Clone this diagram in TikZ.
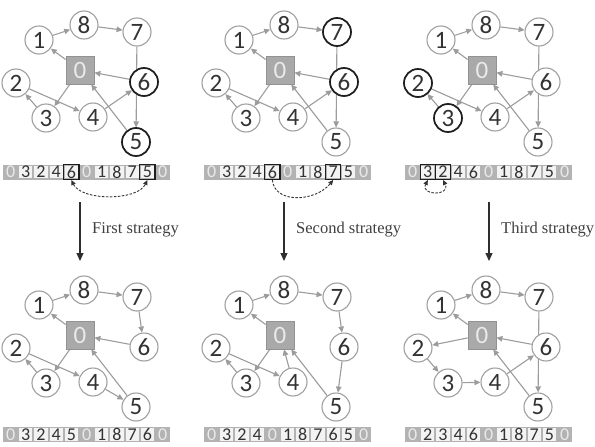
\documentclass[tikz,border=0pt]{standalone}
\usepackage{fontspec}
\setmainfont{Liberation Serif}
\newfontfamily\digitfont{Carlito}
\usetikzlibrary{arrows.meta,backgrounds}

\definecolor{ringgray}{HTML}{A0A0A0}
\definecolor{linkgray}{HTML}{9C9C9C}
\definecolor{inkdark}{HTML}{333333}
\definecolor{depotfill}{HTML}{A9A9A9}
\definecolor{depotedge}{HTML}{929292}
\definecolor{depottext}{HTML}{EAEAEA}
\definecolor{barfill}{HTML}{B3B3B3}
\definecolor{cellfill}{HTML}{F3F3F3}
\definecolor{hotblack}{HTML}{1E1E1E}
\definecolor{swapink}{HTML}{333333}
\definecolor{stepink}{HTML}{2E2E2E}
\definecolor{labelink}{HTML}{404040}

\newcommand\vtxfont{\digitfont\fontsize{25}{25}\selectfont}
\newcommand\cellfont{\digitfont\fontsize{18}{18}\selectfont}
\newcommand\labelfont{\fontsize{16.5}{18}\selectfont}

\tikzset{
  swaptip/.tip={Triangle[length=5pt,width=4.5pt]},
  vtx/.style={circle, draw=ringgray, line width=1.1pt, fill=white,
    minimum size=28pt, inner sep=0pt, font=\vtxfont, text=inkdark},
  depot/.style={rectangle, draw=depotedge, line width=0.8pt, fill=depotfill,
    minimum size=28pt, inner sep=0pt, font=\vtxfont, text=depottext},
  hotring/.style={draw=hotblack, line width=1.7pt},
  link/.style={draw=linkgray, line width=1.1pt,
    -{Triangle[length=6pt,width=5.5pt]}},
  bar/.style={rectangle, fill=barfill, minimum height=15pt, inner sep=0pt},
  tourcell/.style={rectangle, fill=cellfill, minimum width=13.2pt,
    minimum height=12.4pt, inner sep=0pt, font=\cellfont, text=inkdark},
  depotcell/.style={rectangle, minimum width=13.2pt, minimum height=12.4pt,
    inner sep=0pt, font=\cellfont, text=depottext},
  hotbox/.style={draw=hotblack, line width=1.1pt},
  swaparrow/.style={draw=swapink, line width=0.9pt,
    dash pattern=on 2.5pt off 1.5pt},
  steparrow/.style={draw=stepink, line width=1.2pt,
    -{Triangle[length=8pt,width=7pt]}},
  steplabel/.style={font=\labelfont, text=labelink, anchor=base west,
    inner sep=0pt},
}

% depot 0 and customers 1..8 around it
\newcommand\placegraph[3]{%
  \begin{scope}[shift={(#2,#3)}]
    \node[depot] (#1-0) at (0,0) {0};
    \node[vtx] (#1-1) at (-41,-30) {1};
    \node[vtx] (#1-8) at (4,-45) {8};
    \node[vtx] (#1-7) at (57,-38) {7};
    \node[vtx] (#1-6) at (64,12) {6};
    \node[vtx] (#1-2) at (-64,13) {2};
    \node[vtx] (#1-3) at (-34,48) {3};
    \node[vtx] (#1-4) at (13,47) {4};
    \node[vtx] (#1-5) at (56,72) {5};
  \end{scope}}

% directed legs of the routes, kept under the nodes
\newcommand\route[2]{%
  \begin{scope}[on background layer]
    \foreach \a/\b in {#2}{\draw[link] (#1-\a) -- (#1-\b);}
  \end{scope}}

\newcommand\highlight[2]{%
  \foreach \n in {#2}{\draw[hotring] (#1-\n.center) circle[radius=14pt];}}

% one solution string: grey strip, light cells, depots in grey
\newcommand\tourbar[4]{%
  \node[bar, minimum width=167.2pt] (#1) at ({#2+83.6},#3) {};
  \foreach \v [count=\i from 0] in {#4}{%
    \ifnum\v=0
      \node[depotcell] (#1-\i) at ({#2+7.6+15.2*\i},#3) {0};
    \else
      \node[tourcell] (#1-\i) at ({#2+7.6+15.2*\i},#3) {\v};
    \fi}}

\newcommand\markcell[1]{%
  \draw[hotbox] ([xshift=-7.6pt,yshift=-7.5pt]#1.center) rectangle
                ([xshift=7.6pt,yshift=7.5pt]#1.center);}

\begin{document}
\begin{tikzpicture}[x=1pt,y=-1pt]
  \useasboundingbox (0,0) rectangle (595,447);

  % ---------- before the moves ----------
  \placegraph{ga}{80}{70}
  \route{ga}{0/3,3/2,2/4,4/6,6/0,0/1,1/8,8/7,7/5,5/0}
  \highlight{ga}{6,5}

  \placegraph{gb}{280}{70}
  \route{gb}{0/3,3/2,2/4,4/6,6/0,0/1,1/8,8/7,7/5,5/0}
  \highlight{gb}{7,6}

  \placegraph{gc}{482}{70}
  \route{gc}{0/3,3/2,2/4,4/6,6/0,0/1,1/8,8/7,7/5,5/0}
  \highlight{gc}{2,3}

  \tourbar{ta}{3}{172}{0,3,2,4,6,0,1,8,7,5,0}
  \tourbar{tb}{204}{172}{0,3,2,4,6,0,1,8,7,5,0}
  \tourbar{tc}{405}{172}{0,3,2,4,6,0,1,8,7,5,0}
  \markcell{ta-4}\markcell{ta-9}
  \markcell{tb-4}\markcell{tb-8}
  \markcell{tc-1}\markcell{tc-2}

  % exchanged positions
  \draw[swaparrow, swaptip-swaptip]
    ([yshift=-1.6pt]ta-4.south) .. controls +(10,21) and +(-10,21) ..
    ([yshift=-1.6pt]ta-9.south);
  \draw[swaparrow, -swaptip]
    ([yshift=-1.6pt]tb-4.south) .. controls +(2,24) and +(-18,22) ..
    ([yshift=-1.6pt]tb-8.south);
  \draw[swaparrow, swaptip-swaptip]
    ([yshift=-1.6pt]tc-1.south) .. controls +(-8,16) and +(8,16) ..
    ([yshift=-1.6pt]tc-2.south);

  % ---------- the three strategies ----------
  \coordinate (sa0) at (80,202);  \coordinate (sa1) at (80,261);
  \coordinate (sb0) at (284,202); \coordinate (sb1) at (284,261);
  \coordinate (sc0) at (489,202); \coordinate (sc1) at (489,261);
  \draw[steparrow] (sa0) -- (sa1);
  \draw[steparrow] (sb0) -- (sb1);
  \draw[steparrow] (sc0) -- (sc1);
  \node[steplabel] (la) at (92,233) {First strategy};
  \node[steplabel] (lb) at (296,233) {Second strategy};
  \node[steplabel] (lc) at (501,233) {Third strategy};

  % ---------- after the moves ----------
  \placegraph{ha}{80}{335}
  \route{ha}{0/3,3/2,2/4,4/5,5/0,0/1,1/8,8/7,7/6,6/0}

  \placegraph{hb}{280}{335}
  \route{hb}{0/3,3/2,2/4,4/0,0/1,1/8,8/7,7/6,6/5,5/0}

  \placegraph{hc}{482}{335}
  \route{hc}{0/2,2/3,3/4,4/6,6/0,0/1,1/8,8/7,7/5,5/0}

  \tourbar{ba}{3}{434.5}{0,3,2,4,5,0,1,8,7,6,0}
  \tourbar{bb}{204}{434.5}{0,3,2,4,0,1,8,7,6,5,0}
  \tourbar{bc}{405}{434.5}{0,2,3,4,6,0,1,8,7,5,0}
\end{tikzpicture}
\end{document}
